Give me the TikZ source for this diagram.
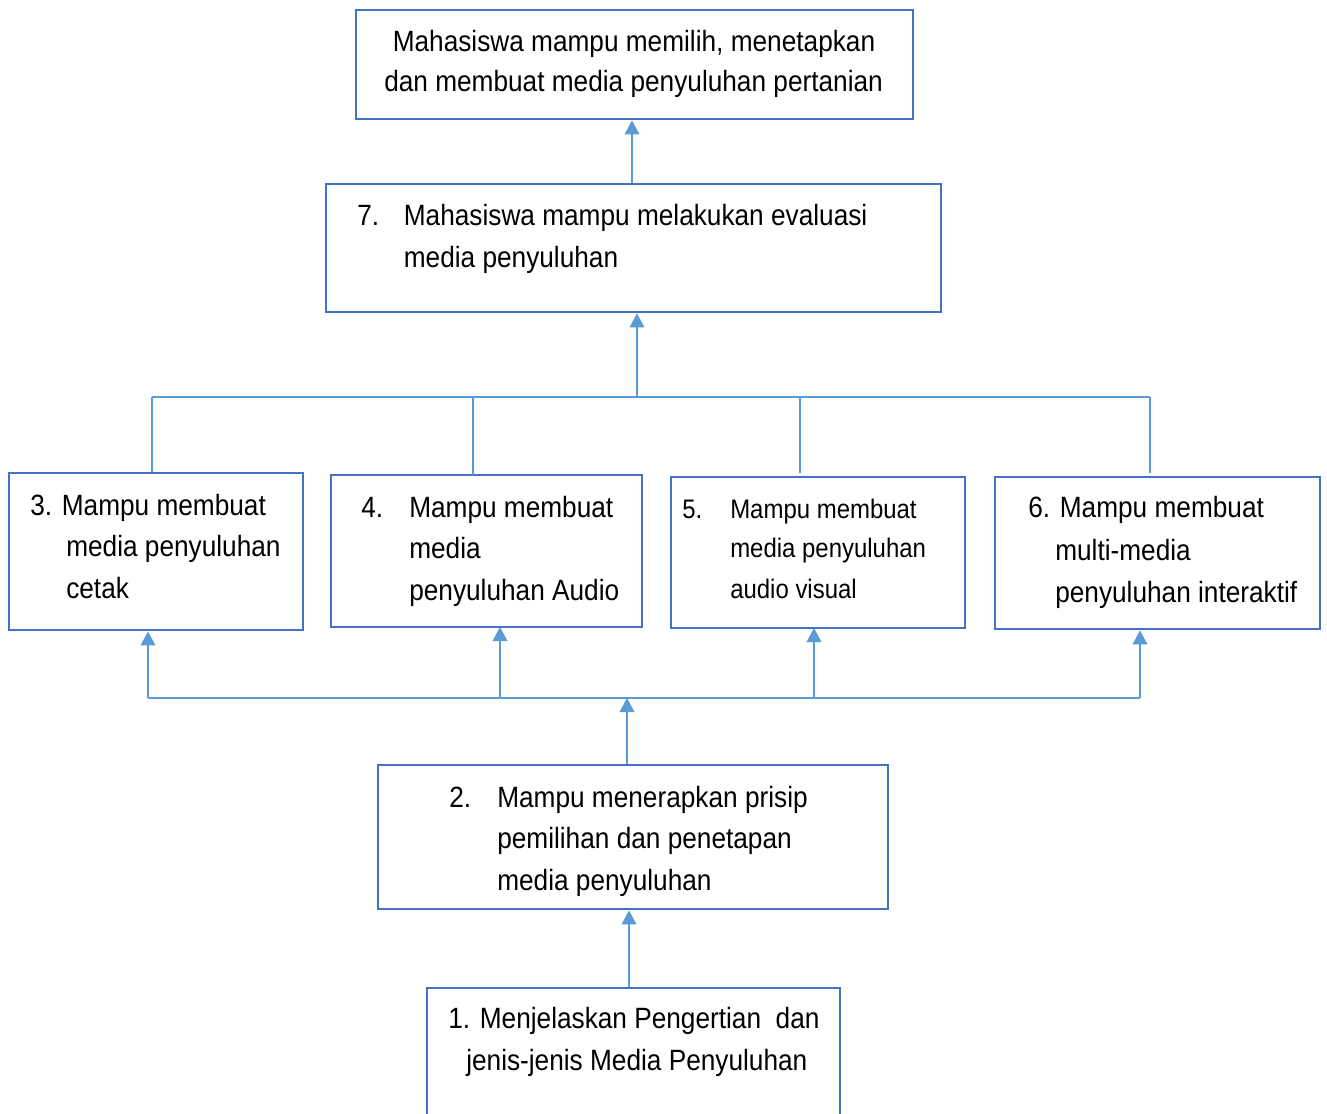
\documentclass[tikz,border=0pt]{standalone}
\usepackage{fontspec}
\setmainfont[FakeStretch=0.894]{Liberation Sans}
\usetikzlibrary{arrows.meta}
\definecolor{boxblue}{HTML}{4472C4}
\definecolor{linkblue}{HTML}{5B9BD5}
\begin{document}
\begin{tikzpicture}[x=0.75pt,y=-0.75pt,
  box/.style={draw=boxblue,line width=2.1pt,rectangle,inner sep=0pt},
  txt/.style={inner sep=0pt,anchor=base west,font=\fontsize{22pt}{26pt}\selectfont},
  txtsmall/.style={inner sep=0pt,anchor=base west,font=\fontsize{20.1pt}{24pt}\selectfont},
  link/.style={draw=linkblue,line width=1.1pt},
  arr/.style={link,-{Triangle[width=11pt,length=10.5pt]}}]
\useasboundingbox (0,0) rectangle (1327,1113);
\clip (0,0) rectangle (1327,1113);

% boxes
\node[box,minimum width=557*0.75pt,minimum height=109*0.75pt] (goal) at (634.5,64.5) {};
\node[box,minimum width=615*0.75pt,minimum height=128*0.75pt] (b7) at (633.5,248) {};
\node[box,minimum width=294*0.75pt,minimum height=157*0.75pt] (b3) at (156,551.5) {};
\node[box,minimum width=311*0.75pt,minimum height=152*0.75pt] (b4) at (486.5,551) {};
\node[box,minimum width=294*0.75pt,minimum height=151*0.75pt] (b5) at (818,552.5) {};
\node[box,minimum width=325*0.75pt,minimum height=152*0.75pt] (b6) at (1157.5,553) {};
\node[box,minimum width=510*0.75pt,minimum height=144*0.75pt] (b2) at (633,837) {};
\node[box,minimum width=413*0.75pt,minimum height=160*0.75pt] (b1) at (633.5,1068) {};

% texts
\node[txt] (g1) at (392.5,52) {Mahasiswa mampu memilih, menetapkan};
\node[txt] (g2) at (384,92) {dan membuat media penyuluhan pertanian};

\node[txt] (n7) at (357,225) {7.};
\node[txt] (t7a) at (403.6,225) {Mahasiswa mampu melakukan evaluasi};
\node[txt] (t7b) at (403.6,267) {media penyuluhan};

\node[txt] (t3a) at (30,515) {3. Mampu membuat};
\node[txt] (t3b) at (66,556) {media penyuluhan};
\node[txt] (t3c) at (66,598) {cetak};

\node[txt] (n4) at (361,517) {4.};
\node[txt] (t4a) at (409,517) {Mampu membuat};
\node[txt] (t4b) at (409,558) {media};
\node[txt] (t4c) at (409,600) {penyuluhan Audio};

\node[txtsmall] (n5) at (682,518) {5.};
\node[txtsmall] (t5a) at (730,518) {Mampu membuat};
\node[txtsmall] (t5b) at (730,557) {media penyuluhan};
\node[txtsmall] (t5c) at (730,598) {audio visual};

\node[txt] (t6a) at (1028,517) {6. Mampu membuat};
\node[txt] (t6b) at (1055,560) {multi-media};
\node[txt] (t6c) at (1055,602) {penyuluhan interaktif};

\node[txt] (n2) at (449,807) {2.};
\node[txt] (t2a) at (497,807) {Mampu menerapkan prisip};
\node[txt] (t2b) at (497,848) {pemilihan dan penetapan};
\node[txt] (t2c) at (497,890) {media penyuluhan};

\node[txt] (t1a) at (448,1028) {1. Menjelaskan Pengertian\ \ dan};
\node[txt] (t1b) at (466,1070) {jenis-jenis Media Penyuluhan};

% junction points
\coordinate (up) at (637,397);
\coordinate (upL) at (152,397);
\coordinate (upR) at (1150,397);
\coordinate (lo) at (627,698);
\coordinate (loL) at (148,698);
\coordinate (loR) at (1140,698);

% connectors
\draw[arr] (b7.north -| 632,0) -- (goal.south -| 632,0);
\draw[link] (upL) -- (upR);
\draw[arr] (up) -- (up |- b7.south);
\draw[link] (upL) -- (upL |- b3.north);
\draw[link] (473,397) -- (473,475);
\draw[link] (800,397) -- (800,473);
\draw[link] (upR) -- (1150,473);

\draw[link] (loL) -- (loR);
\draw[arr] (loL) -- (loL |- b3.south);
\draw[arr] (500,698) -- (500,627);
\draw[arr] (814,698) -- (814,628);
\draw[arr] (loR) -- (loR |- b6.south);
\draw[arr] (b2.north -| lo) -- (lo);
\draw[arr] (b1.north -| 629,0) -- (b2.south -| 629,0);
\end{tikzpicture}
\end{document}
